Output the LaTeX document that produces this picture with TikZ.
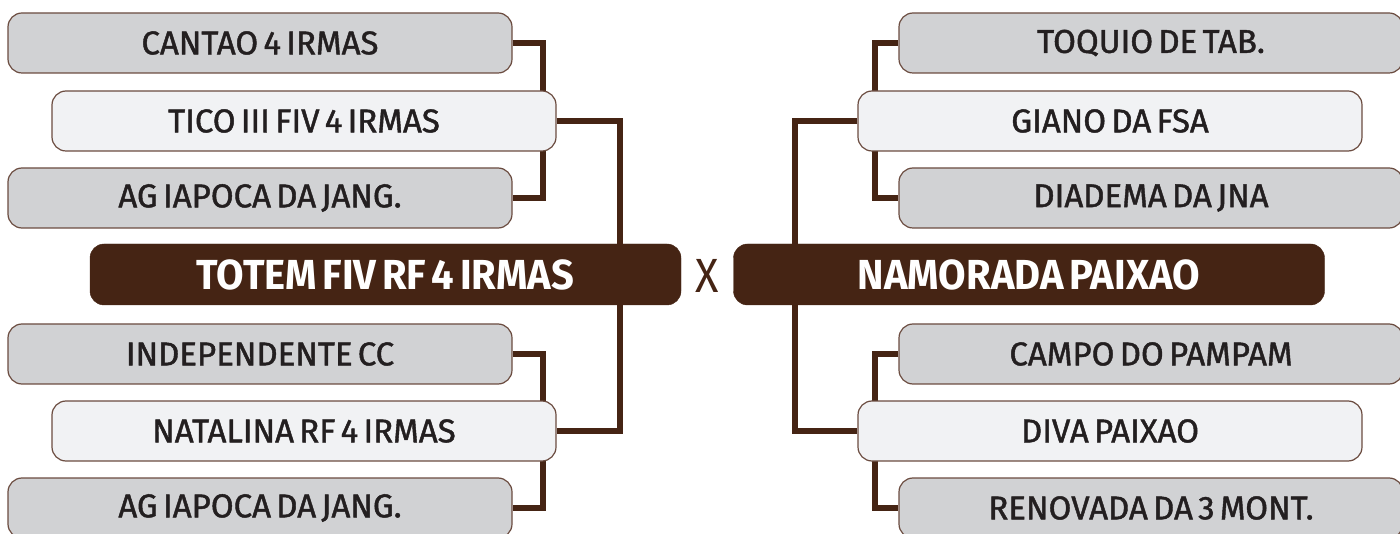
\documentclass[tikz,border=0pt]{standalone}
\usepackage{fontspec}
\setmainfont{Fira Sans}[FakeBold=1.3, WordSpace=0.6, FakeStretch=1.0]
\newfontfamily\mainboxfont{Fira Sans}[WordSpace=0.6, FakeStretch=0.95]
\newfontfamily\vsfont{Fira Sans}[FakeStretch=0.9]
\definecolor{brownD}{HTML}{452414}
\definecolor{edge}{HTML}{6B4C40}
\definecolor{grayF}{HTML}{D1D2D4}
\definecolor{lightF}{HTML}{F1F2F4}
\definecolor{txt}{HTML}{231F20}
\begin{document}
\begin{tikzpicture}[x=1pt,y=-1pt,
  box/.style={draw=edge, line width=1.2pt, rounded corners=14pt, minimum height=60pt,
    inner sep=0pt, text=txt, font=\fontsize{33}{33}\selectfont},
  graybox/.style={box, fill=grayF, minimum width=504pt},
  lightbox/.style={box, fill=lightF, minimum width=504pt},
  mainbox/.style={draw=brownD, fill=brownD, rounded corners=14pt, minimum height=61pt,
    minimum width=591pt, inner sep=0pt, text=white, font=\mainboxfont\bfseries\fontsize{42}{42}\selectfont},
  conn/.style={draw=brownD, line width=5.5pt, line join=miter}]
\useasboundingbox (0,0) rectangle (1400,534);
% spine positions
\coordinate (sL1) at (543,0);
\coordinate (sL0) at (620,0);
\coordinate (sR1) at (875,0);
\coordinate (sR0) at (795,0);
% outer boxes
\node[graybox] (c1) at (260,43) {CANTAO 4 IRMAS};
\node[graybox] (c3) at (260,198) {AG IAPOCA DA JANG.};
\node[graybox] (c4) at (260,354) {INDEPENDENTE CC};
\node[graybox] (c6) at (260,508) {AG IAPOCA DA JANG.};
\node[graybox] (d1) at (1151,43) {TOQUIO DE TAB.};
\node[graybox] (d3) at (1151,198) {DIADEMA DA JNA};
\node[graybox] (d4) at (1151,354) {CAMPO DO PAMPAM};
\node[graybox] (d6) at (1151,508) {RENOVADA DA 3 MONT.};
% connectors of the outer pairs
\draw[conn] (c1.east) -- (c1.east -| sL1) -- (c3.east -| sL1) -- (c3.east);
\draw[conn] (c4.east) -- (c4.east -| sL1) -- (c6.east -| sL1) -- (c6.east);
\draw[conn] (d1.west) -- (d1.west -| sR1) -- (d3.west -| sR1) -- (d3.west);
\draw[conn] (d4.west) -- (d4.west -| sR1) -- (d6.west -| sR1) -- (d6.west);
% middle boxes
\node[lightbox] (c2) at (304,121) {TICO III FIV 4 IRMAS};
\node[lightbox] (c5) at (304,431) {NATALINA RF 4 IRMAS};
\node[lightbox] (d2) at (1110,121) {GIANO DA FSA};
\node[lightbox] (d5) at (1110,431) {DIVA PAIXAO};
\draw[conn] (c2.east) -- (c2.east -| sL0) -- (c5.east -| sL0) -- (c5.east);
\draw[conn] (d2.west) -- (d2.west -| sR0) -- (d5.west -| sR0) -- (d5.west);
% main boxes
\node[mainbox] (m1) at (385.5,274.5) {TOTEM FIV RF 4 IRMAS};
\node[mainbox] (m2) at (1029,274.5) {NAMORADA PAIXAO};
\node[text=brownD, font=\vsfont\fontsize{48}{48}\selectfont, inner sep=0pt] (vs) at (707.5,276) {X};
\end{tikzpicture}
\end{document}
